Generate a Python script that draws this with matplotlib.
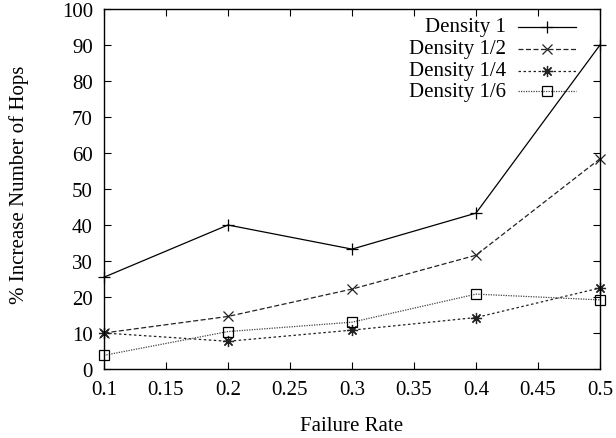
import matplotlib
matplotlib.use("Agg")
import matplotlib.pyplot as plt

# data
failure_rate = [0.1, 0.2, 0.3, 0.4, 0.5]
density_1 = [25.5, 40.0, 33.3, 43.3, 90.0]
density_1_2 = [10.0, 14.6, 22.2, 31.6, 58.4]
density_1_4 = [10.0, 7.7, 10.8, 14.3, 22.5]
density_1_6 = [3.8, 10.4, 13.0, 20.8, 19.2]
labels = ["Density 1", "Density 1/2", "Density 1/4", "Density 1/6"]
xticks = [0.1, 0.15, 0.2, 0.25, 0.3, 0.35, 0.4, 0.45, 0.5]
yticks = list(range(0, 101, 10))

plt.rcParams["font.family"] = ["Liberation Serif", "DejaVu Serif"]
plt.rcParams["font.size"] = 15

fig = plt.figure(figsize=(6.16, 4.39), dpi=100)
ax = fig.add_axes([104 / 616, 1 - 370 / 439, 496 / 616, 360 / 439])

series = [density_1, density_1_2, density_1_4, density_1_6]
styles = [
    dict(marker="+", linestyle="-", color="black", lw=0.9, ms=8),
    dict(marker="x", linestyle=(0, (4, 2)), color="#222222", lw=0.9, ms=7),
    dict(marker=(8, 2, 0), linestyle=(0, (2, 2)), color="#222222", lw=0.9, ms=8),
    dict(marker="s", linestyle=(0, (1, 1)), color="#444444", lw=0.9, ms=7,
         mfc="none", mec="black"),
]

for ys, st in zip(series, styles):
    ax.plot(failure_rate, ys, mew=0.9, clip_on=False, **st)

ax.set_xlim(0.1, 0.5)
ax.set_ylim(0, 100)
ax.set_xticks(xticks)
ax.set_xticklabels(["0.1", "0.15", "0.2", "0.25", "0.3", "0.35", "0.4", "0.45", "0.5"])
ax.set_yticks(yticks)
ax.tick_params(direction="in", top=True, right=True, length=5, width=0.8, pad=8)
for sp in ax.spines.values():
    sp.set_linewidth(1.0)

ax.set_xlabel("Failure Rate", labelpad=12)
ax.set_ylabel("% Increase Number of Hops")
ax.yaxis.set_label_coords(-0.151, 0.514)

# gnuplot style key: text right-aligned, sample line to its right
rows = [0.951, 0.890, 0.829, 0.771]
for lab, st, yy in zip(labels, styles, rows):
    ax.text(0.81, yy, lab, transform=ax.transAxes, ha="right", va="center")
    ax.plot([0.835, 0.952], [yy, yy], transform=ax.transAxes,
            linestyle=st["linestyle"], color=st["color"], lw=st["lw"])
    ax.plot([0.893], [yy], transform=ax.transAxes, linestyle="none",
            marker=st["marker"], ms=st["ms"], mew=0.9,
            mfc=st.get("mfc", st["color"]), mec=st.get("mec", st["color"]))

fig.savefig("out.png", dpi=100)
plt.close(fig)
